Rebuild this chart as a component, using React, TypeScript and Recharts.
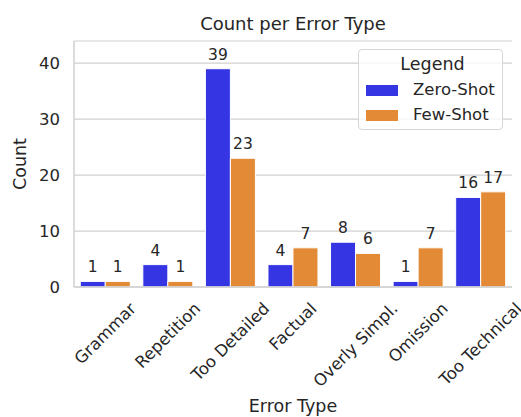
import { BarChart, Bar, XAxis, YAxis, CartesianGrid, LabelList } from 'recharts'

const categories = ['Grammar', 'Repetition', 'Too Detailed', 'Factual', 'Overly Simpl.', 'Omission', 'Too Technical']
const zeroShot = [1, 4, 39, 4, 8, 1, 16]
const fewShot = [1, 1, 23, 7, 6, 7, 17]
const yTicks = [0, 10, 20, 30, 40]

const data = categories.map((c, i) => ({ type: c, zero: zeroShot[i], few: fewShot[i] }))

const FONT = 'DejaVu Sans'
const TEXT = '#262626'
const GRID = '#d0d0d0'
const BLUE = '#3535e3'
const ORANGE = '#e28a36'

let ctx: CanvasRenderingContext2D | null = null
function textWidth(s: string, size: number) {
  if (!ctx) ctx = document.createElement('canvas').getContext('2d')
  if (!ctx) return s.length * size * 0.6
  ctx.font = `${size}px "${FONT}"`
  return ctx.measureText(s).width
}

// matplotlib style: rotated 45deg, bbox centred on the tick, top aligned under the axis
function RotatedTick(props: any) {
  const { x, y, payload } = props
  const size = 16.5
  const w = textWidth(payload.value, size)
  const h = size * 1.16
  const boxH = (w + h) * Math.SQRT1_2
  const cy = y + 4 + boxH / 2
  return (
    <text
      x={x}
      y={cy}
      textAnchor="middle"
      dominantBaseline="central"
      transform={`rotate(-45, ${x}, ${cy})`}
      fontSize={size}
      fontFamily={FONT}
      fill={TEXT}
    >
      {payload.value}
    </text>
  )
}

function LegendBox() {
  const items = [
    { label: 'Zero-Shot', color: BLUE },
    { label: 'Few-Shot', color: ORANGE },
  ]
  return (
    <div
      style={{
        position: 'absolute',
        left: 358,
        top: 49,
        width: 145,
        height: 81,
        border: '1px solid #d6d6d6',
        borderRadius: 4,
        background: 'rgba(255,255,255,0.8)',
        fontFamily: FONT,
        color: TEXT,
        boxSizing: 'border-box',
      }}
    >
      <div style={{ position: 'absolute', top: 3, left: 0, width: 143, textAlign: 'center', paddingLeft: 2, fontSize: 17.5, lineHeight: '22px' }}>
        Legend
      </div>
      {items.map((it, i) => (
        <div key={it.label} style={{ position: 'absolute', left: 7, top: 30 + i * 25, display: 'flex', alignItems: 'center' }}>
          <span style={{ width: 32, height: 11, background: it.color, display: 'inline-block' }} />
          <span style={{ marginLeft: 15, fontSize: 16.5, lineHeight: '20px' }}>{it.label}</span>
        </div>
      ))}
    </div>
  )
}

export default function App() {
  return (
    <div style={{ position: 'absolute', left: 0, top: 0, width: 521, height: 417, background: '#fff', overflow: 'hidden' }}>
      <div style={{ position: 'absolute', top: 13, left: 74, width: 438, textAlign: 'center', fontFamily: FONT, fontSize: 18, color: TEXT }}>
        Count per Error Type
      </div>
      <BarChart
        width={521}
        height={417}
        data={data}
        margin={{ top: 41, right: 9, left: 0, bottom: 0 }}
        barCategoryGap="10%"
        barGap={0}
      >
        <CartesianGrid horizontal vertical={false} stroke={GRID} strokeWidth={1.2} />
        <XAxis
          dataKey="type"
          height={130}
          interval={0}
          axisLine={{ stroke: GRID, strokeWidth: 1.5 }}
          tickLine={false}
          tick={<RotatedTick />}
          label={{ value: 'Error Type', position: 'insideBottom', offset: 5, fontSize: 17.5, fontFamily: FONT, fill: TEXT }}
        />
        <XAxis xAxisId="top" orientation="top" dataKey="type" height={0} tick={false} tickLine={false} axisLine={{ stroke: GRID, strokeWidth: 1.5 }} />
        <YAxis
          width={74}
          domain={[0, 43.95]}
          ticks={yTicks}
          allowDataOverflow
          axisLine={{ stroke: GRID, strokeWidth: 1.5 }}
          tickLine={false}
          tickSize={6}
          tickMargin={8}
          tick={{ fontSize: 16.5, fontFamily: FONT, fill: TEXT }}
          label={{ value: 'Count', angle: -90, position: 'insideLeft', offset: 20, fontSize: 17.5, fontFamily: FONT, fill: TEXT, style: { textAnchor: 'middle' } }}
        />
        <YAxis yAxisId="right" orientation="right" width={0} tick={false} tickLine={false} axisLine={{ stroke: GRID, strokeWidth: 1.5 }} />
        <Bar dataKey="zero" name="Zero-Shot" fill={BLUE} stroke="#fff" strokeWidth={1} isAnimationActive={false}>
          <LabelList dataKey="zero" position="top" offset={9} fontSize={15.5} fontFamily={FONT} fill={TEXT} />
        </Bar>
        <Bar dataKey="few" name="Few-Shot" fill={ORANGE} stroke="#fff" strokeWidth={1} isAnimationActive={false}>
          <LabelList dataKey="few" position="top" offset={9} fontSize={15.5} fontFamily={FONT} fill={TEXT} />
        </Bar>
      </BarChart>
      <LegendBox />
    </div>
  )
}
